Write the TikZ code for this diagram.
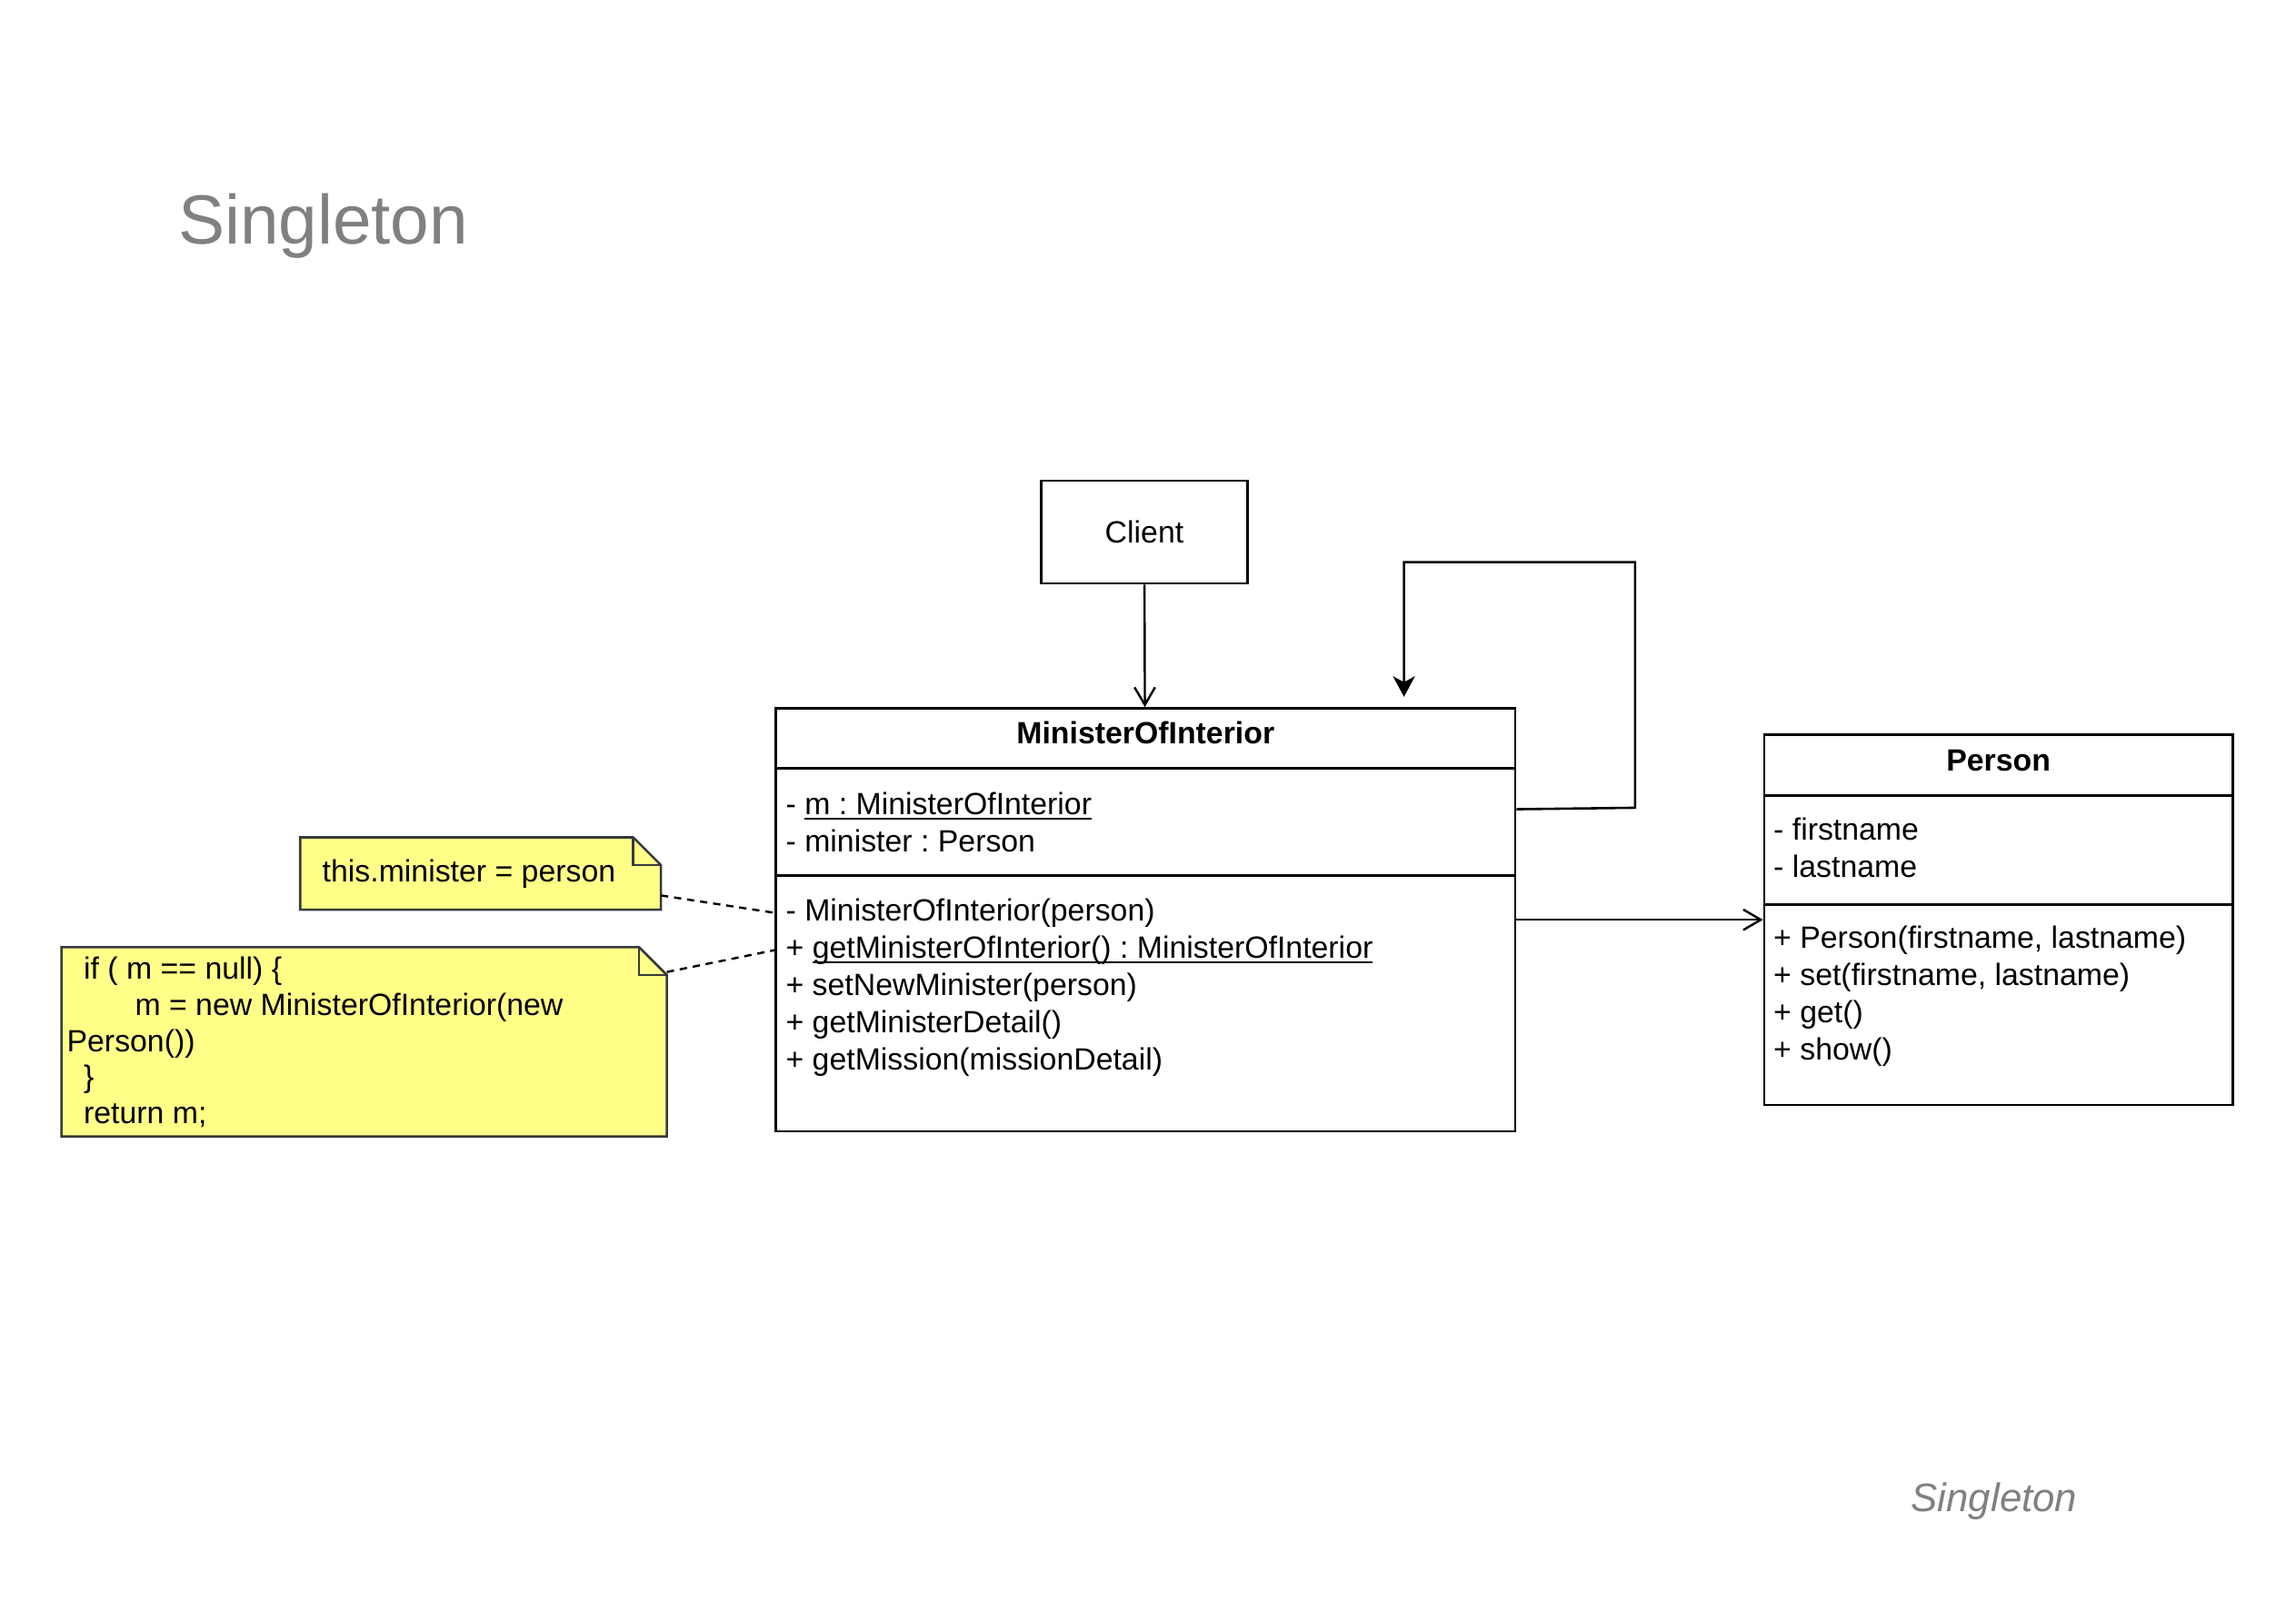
\documentclass[tikz,border=0pt]{standalone}
\usepackage{fontspec}
\setmainfont{Liberation Sans}
\usetikzlibrary{arrows.meta}
\frenchspacing
\definecolor{notefill}{HTML}{FFFF88}
\definecolor{notedraw}{HTML}{36393D}
\definecolor{titlegray}{HTML}{808080}
\tikzset{
    classbox/.style = {draw, line width=1.6pt, anchor=north west, inner sep=0pt},
    classname/.style = {anchor=base, inner sep=0pt, font=\fontsize{21}{25}\selectfont\bfseries},
    member/.style = {anchor=base west, inner sep=0pt, font=\fontsize{21}{25}\selectfont},
    notebody/.style = {anchor=north west, inner sep=0pt},
    notestyle/.style = {fill=notefill, draw=notedraw, line width=1.6pt},
    openarrow/.style = {line width=1.5pt, -{Straight Barb[length=12pt, width=14pt]}},
    selfarrow/.style = {line width=1.6pt, -{Stealth[length=14pt, width=15pt, inset=4pt]}},
    notelink/.style = {line width=1.5pt, dash pattern=on 5pt off 4pt}
}
\newcommand{\umlul}[1]{\setbox0\hbox{#1}\leavevmode\rlap{\rule[-3.5pt]{\wd0}{1.3pt}}\box0}
\newcommand{\dogear}[1]{%
    \filldraw[notestyle] (#1.north west) -- ([xshift=-19pt]#1.north east) -- ([yshift=-19pt]#1.north east) -- (#1.south east) -- (#1.south west) -- cycle;
    \draw[notestyle, fill=none] ([xshift=-19pt]#1.north east) |- ([yshift=-19pt]#1.north east);
}
\begin{document}
\begin{tikzpicture}[x=1pt, y=-1pt]
    \useasboundingbox (0,0) rectangle (1568,1108);
    \node[anchor=base west, inner sep=0pt, text=titlegray, font=\fontsize{47.5}{56}\selectfont] (title) at (121.5,166.5) {Singleton};
    \node[anchor=base west, inner sep=0pt, text=titlegray, font=\fontsize{27.2}{32}\selectfont\itshape] (footer) at (1305,1032.5) {Singleton};

    \node[classbox, anchor=center, minimum width=141pt, minimum height=70pt, font=\fontsize{21}{25}\selectfont] (client) at (781.5,363.5) {Client};

    \node[classbox, minimum width=505pt, minimum height=289pt] (moi) at (529,483) {};
    \draw[line width=1.6pt] ([yshift=-42pt]moi.north west) -- ([yshift=-42pt]moi.north east);
    \draw[line width=1.6pt] ([yshift=-115pt]moi.north west) -- ([yshift=-115pt]moi.north east);
    \node[classname] (moiname) at ([yshift=-25pt]moi.north) {MinisterOfInterior};
    \foreach \txt [count=\i] in {{- \umlul{m : MinisterOfInterior}}, {- minister : Person}}
        \node[member] (moiattr\i) at ([xshift=7.5pt, yshift=-48pt-25.5pt*\i]moi.north west) {\txt};
    \foreach \txt [count=\i] in {{- MinisterOfInterior(person)}, {+ \umlul{getMinisterOfInterior() : MinisterOfInterior}}, {+ setNewMinister(person)}, {+ getMinisterDetail()}, {+ getMission(missionDetail)}}
        \node[member] (moimeth\i) at ([xshift=7.5pt, yshift=-120.5pt-25.5pt*\i]moi.north west) {\txt};

    \node[classbox, minimum width=320pt, minimum height=253pt] (person) at (1204,501) {};
    \draw[line width=1.6pt] ([yshift=-42.5pt]person.north west) -- ([yshift=-42.5pt]person.north east);
    \draw[line width=1.6pt] ([yshift=-117pt]person.north west) -- ([yshift=-117pt]person.north east);
    \node[classname] (personname) at ([yshift=-25.5pt]person.north) {Person};
    \foreach \txt [count=\i] in {{- firstname}, {- lastname}}
        \node[member] (personattr\i) at ([xshift=7pt, yshift=-47.5pt-25.5pt*\i]person.north west) {\txt};
    \foreach \txt [count=\i] in {{+ Person(firstname, lastname)}, {+ set(firstname, lastname)}, {+ get()}, {+ show()}}
        \node[member] (personmeth\i) at ([xshift=7pt, yshift=-121pt-25.5pt*\i]person.north west) {\txt};

    \node[notebody, minimum width=246pt, minimum height=49pt] (thisnote) at (205,572) {};
    \dogear{thisnote}
    \node[member] (thisnotetext) at (220,602.5) {this.minister = person};

    \node[notebody, minimum width=413pt, minimum height=129pt] (ifnote) at (42,647) {};
    \dogear{ifnote}
    \foreach \x/\txt [count=\i] in {57/{if ( m == null) \{}, 92/{m = new MinisterOfInterior(new}, 45.5/{Person())}, 57/{\}}, 57/{return m;}}
        \node[member] (ifnotetext\i) at (\x,644+24.75*\i) {\txt};

    \draw[openarrow] (client) -- (moi);
    \draw[openarrow] (moi.east) -- (person.west);
    \draw[selfarrow] ([yshift=75.5pt]moi.east) -- ++(81,-1) |- ([xshift=176.5pt, yshift=99pt]moi.north) -- ([xshift=176.5pt, yshift=7pt]moi.north);
    \draw[notelink] ([yshift=-15pt]thisnote.east) -- (moi.west |- moimeth1);
    \draw[notelink] ([yshift=-17pt]ifnote.north east) -- (moi.west |- moimeth2);
\end{tikzpicture}
\end{document}
